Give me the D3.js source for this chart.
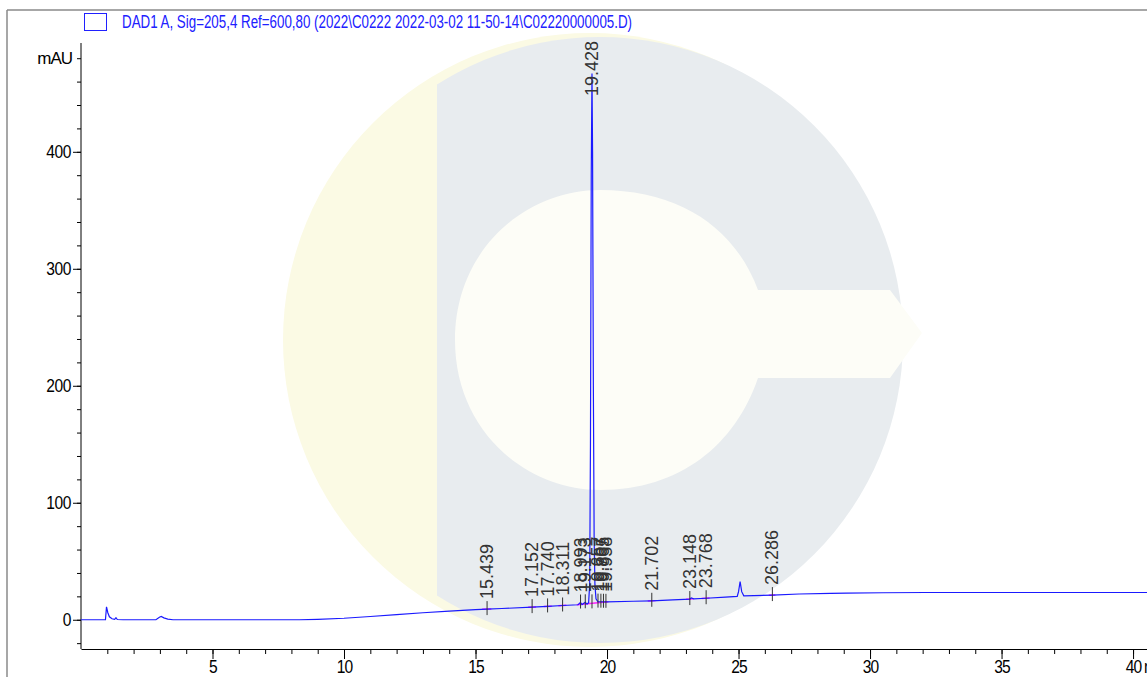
<!DOCTYPE html>
<html><head><meta charset="utf-8">
<script src="https://cdn.jsdelivr.net/npm/d3@7"></script>
<style>
html,body{margin:0;padding:0;background:#fff;}
svg{display:block;font-family:"Liberation Sans",Arial,sans-serif;}
</style></head>
<body>
<svg id="c" width="1147" height="677"></svg>
<script>
// ---- data ----
const traceTime = [0,0.93,0.97,1.02,1.08,1.18,1.28,1.33,1.38,1.6,2.85,2.98,3.05,3.15,3.3,3.5,8.3,9.0,10.0,11.0,12.0,13.0,14.0,15.0,15.44,16.0,17.15,17.74,18.31,18.9,18.99,19.05,19.17,19.24,19.30,19.34,19.37,19.40,19.428,19.45,19.48,19.51,19.54,19.58,19.65,20.0,21.0,21.7,22.5,23.15,23.2,23.3,23.77,24.5,24.95,25.0,25.06,25.12,25.2,26.29,27.3,28.5,29.1,30.5,32.1,40.6];
const traceMAU  = [0,0,11,6,2.5,0.8,0.3,1.8,0.2,0,0,2.2,2.8,1.6,0.6,0,0,0.4,1.3,2.8,4.4,6.0,7.4,8.6,9.1,9.6,10.8,11.4,12.2,12.8,14.8,13.0,15.0,13.4,14.5,30,150,380,467,400,200,70,30,18,15.5,15.3,15.8,16.2,17.0,17.7,18.6,17.9,18.4,19.3,19.9,24,32.7,24,20.5,21.1,22.0,22.6,22.8,23.1,23.3,23.3];

const peakLabels  = ["15.439","17.152","17.740","18.311","18.993","19.173","19.428","19.657","19.767","19.865","19.958","21.702","23.148","23.768","26.286"];
const peakTimes   = [15.439,17.152,17.740,18.311,18.993,19.173,19.428,19.657,19.767,19.865,19.958,21.702,23.148,23.768,26.286];
const peakHeights = [9.1,10.8,11.4,12.2,14.8,15.0,467,15.4,15.3,15.3,15.3,16.2,17.7,18.4,21.1];

const baseStart = [15.25,17.0,17.6,18.15,18.85,21.55,23.0,23.6,26.15];
const baseEnd   = [15.6,17.3,17.9,18.45,20.05,21.85,23.3,23.9,26.4];

const xMajorTicks = [5,10,15,20,25,30,35,40];
const yMajorTicks = [0,100,200,300,400];
const yUnit = "mAU";
const xUnit = "min";
const legendText = "DAD1 A, Sig=205,4 Ref=600,80 (2022\\C0222 2022-03-02 11-50-14\\C02220000005.D)";

(function(){
// ---- layout ----
const svg = d3.select("#c");
const pLeft = 81, pRight = 1147, pTop = 43, pBottom = 649;
const x = d3.scaleLinear().domain([0, 40.53]).range([pLeft, pRight]);
const y = d3.scaleLinear().domain([-25, 493]).range([pBottom, pTop]);

// watermark (faint logo in background)
const wm = svg.append("g");
wm.append("circle").attr("cx",590).attr("cy",340).attr("r",307).attr("fill","#fbfae4");
const clip = svg.append("defs").append("clipPath").attr("id","wmclip");
clip.append("rect").attr("x",437).attr("y",0).attr("width",700).attr("height",677);
wm.append("circle").attr("cx",600).attr("cy",340).attr("r",303).attr("fill","#e8ecef").attr("clip-path","url(#wmclip)");
wm.append("path").attr("fill","#fdfdf7")
  .attr("d","M455,340 C455,250 525,190 600,190 C680,190 735,228 758,290 L890,290 L922,333 L890,378 L758,378 C735,445 680,490 600,490 C525,490 455,430 455,340 Z");

// frame
svg.append("line").attr("x1",7).attr("x2",1147).attr("y1",10).attr("y2",10).attr("stroke","#8a8a8a").attr("stroke-width",1.5);
svg.append("line").attr("x1",7).attr("x2",7).attr("y1",10).attr("y2",677).attr("stroke","#8a8a8a").attr("stroke-width",1.5);

// legend
svg.append("rect").attr("x",84.5).attr("y",13.5).attr("width",22).attr("height",17)
  .attr("fill","none").attr("stroke","#2020ff").attr("stroke-width",1);
svg.append("text").attr("x",122).attr("y",28).attr("font-size",18).attr("fill","#2020ff")
  .attr("textLength",510).attr("lengthAdjust","spacingAndGlyphs").text(legendText);

// axes
function styleAxis(g){
  g.selectAll("path,line").attr("stroke","#000").attr("stroke-width",1);
  g.selectAll("text").attr("fill","#000").attr("font-family","'Liberation Sans',Arial,sans-serif");
}
const yMinor = d3.range(-20, 481, 20);
const gyMin = svg.append("g").attr("transform",`translate(${pLeft},0)`)
  .call(d3.axisLeft(y).tickValues(yMinor).tickSize(4).tickSizeOuter(0).tickFormat(""));
styleAxis(gyMin);
gyMin.select(".domain").attr("d",`M0,${pTop}V${pBottom}`);
const gy = svg.append("g").attr("transform",`translate(${pLeft},0)`)
  .call(d3.axisLeft(y).tickValues(yMajorTicks).tickSize(8).tickSizeOuter(0).tickPadding(2));
gy.select(".domain").remove();
styleAxis(gy);
gy.selectAll("text").attr("font-size",19).attr("letter-spacing","-0.5").attr("transform","scale(0.82,1)").attr("x",-10/0.82);
svg.append("text").attr("x",72).attr("y",y(480)).attr("dy","0.35em").attr("text-anchor","end")
  .attr("font-size",17).attr("letter-spacing","-1").text(yUnit);

const xMinor = d3.range(1, 41, 1);
const gxMin = svg.append("g").attr("transform",`translate(0,${pBottom})`)
  .call(d3.axisBottom(x).tickValues(xMinor).tickSize(5).tickSizeOuter(0).tickFormat(""));
styleAxis(gxMin);
const gx = svg.append("g").attr("transform",`translate(0,${pBottom})`)
  .call(d3.axisBottom(x).tickValues(xMajorTicks).tickSize(10).tickSizeOuter(0).tickPadding(2));
gx.select(".domain").remove();
styleAxis(gx);
// digits occupy ~661-675 like the reference
gx.selectAll("text").attr("font-size",19).attr("letter-spacing","-1")
  .attr("dy",null).attr("y",24).attr("transform","scale(0.82,1)");
const ux = x(40) + 11;
svg.append("text").attr("x",0).attr("y",pBottom+24)
  .attr("font-size",19).attr("letter-spacing","-1")
  .attr("transform",`translate(${ux},0) scale(0.82,1)`).text(xUnit);

// integration baselines (magenta)
const pts = traceTime.map((tt,i)=>[tt,traceMAU[i]]).filter(p=>!(p[0]>19.3&&p[0]<19.6));
const interp = t => {
  for(let i=1;i<pts.length;i++){ if(t<=pts[i][0]){ const a=pts[i-1],b=pts[i]; return a[1]+(b[1]-a[1])*(t-a[0])/(b[0]-a[0]); } }
  return pts[pts.length-1][1];
};
svg.append("g").selectAll("line").data(baseStart).join("line")
  .attr("x1",(d)=>x(d)).attr("x2",(d,i)=>x(baseEnd[i]))
  .attr("y1",(d)=>y(interp(d))).attr("y2",(d,i)=>y(interp(baseEnd[i])))
  .attr("stroke","#ff20ff").attr("stroke-width",1.5);

// trace
const line = d3.line().x((d,i)=>x(traceTime[i])).y((d,i)=>y(traceMAU[i]));
svg.append("path").datum(traceMAU).attr("d",line).attr("fill","none").attr("stroke","#1a1aff").attr("stroke-width",1.2);

// peak labels
const pk = svg.append("g");
peakTimes.forEach((t,i)=>{
  const px = x(t), yb = y(interp(t));
  pk.append("line").attr("x1",px).attr("x2",px).attr("y1",yb-8).attr("y2",yb+6).attr("stroke","#333").attr("stroke-width",1);
  const textLen = 56;
  let ys = Math.min(y(peakHeights[i]) - 10, yb - 10);
  ys = Math.max(ys, pTop - 3 + textLen);
  pk.append("text").attr("transform",`translate(${px+6},${ys}) rotate(-90)`)
    .attr("font-size",18).attr("fill","#333").text(peakLabels[i]);
});
})();
</script>
</body></html>
